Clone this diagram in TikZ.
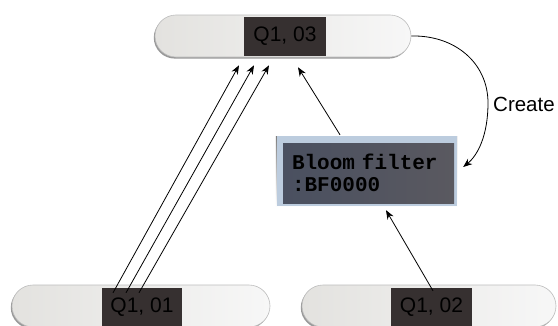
\documentclass[tikz,border=0pt]{standalone}
\usepackage{fontspec}
\setmainfont{Liberation Sans}
\newfontfamily\bfmono{Liberation Mono}
\usetikzlibrary{arrows.meta,calc,shadows,backgrounds}
\definecolor{pillL}{HTML}{E3E2DF}
\definecolor{pillR}{HTML}{F7F7F7}
\definecolor{pillB}{HTML}{BDBDBD}
\definecolor{qdark}{HTML}{363030}
\definecolor{bfL}{HTML}{4A5060}
\definecolor{bfR}{HTML}{5A5960}
\definecolor{bfFrame}{HTML}{BCCCDE}
\definecolor{shade}{HTML}{808080}
\tikzset{
  pill/.style={rectangle, rounded corners=21pt, minimum height=42pt, inner sep=0pt,
    left color=pillL, right color=pillR, draw=pillB, line width=0.6pt,
    drop shadow={shadow xshift=-1.2pt, shadow yshift=-1.6pt, fill=shade, opacity=0.8}},
  qbox/.style={rectangle, fill=qdark, minimum height=39pt, inner sep=0pt, text=black,
    font=\fontsize{21}{25}\selectfont},
  bfbox/.style={rectangle, left color=bfL, right color=bfR, minimum width=171pt,
    minimum height=60pt, inner xsep=9pt, inner ysep=0pt, text width=153pt, align=left,
    text=black, font=\bfmono\bfseries\fontsize{21}{22}\selectfont},
  arr/.style={-{Stealth[length=9pt,width=7pt]}, line width=0.8pt, black},
  lbl/.style={font=\fontsize{20.5}{24}\selectfont, inner sep=0pt}
}
\begin{document}
\begin{tikzpicture}[x=1pt,y=1pt]
\useasboundingbox (0,0) rectangle (558,325);
% pills
\node[pill, minimum width=256pt] (p03) at (283,289) {};
\node[pill, minimum width=258pt] (p01) at (141,19) {};
\node[pill, minimum width=254pt] (p02) at (429,19) {};
% dark labels
\node[qbox, minimum width=82pt] (q03) at (285,288.7) {Q1, 03};
\node[qbox, minimum width=80pt] (q01) at (142,17.5) {Q1, 01};
\node[qbox, minimum width=81pt] (q02) at (431.5,17.5) {Q1, 02};
% bloom filter box
\node[bfbox] (bf) at (368.5,152) {Bloom filter\\:BF0000};
\begin{scope}[on background layer]
  \fill[white] (0,0) rectangle (558,325);
  \fill[shade] ($(bf.south west)+(-7,-4)$) rectangle ($(bf.north east)+(3,6)$);
  \fill[bfFrame] ($(bf.south west)+(-6,-3)$) rectangle ($(bf.north east)+(3,7)$);
\end{scope}
% connectors
\draw[arr] ($(q01.north)+(-29,-5)$) -- ($(p03.south)+(-44,-8)$);
\draw[arr] ($(q01.north)+(-16,-5)$) -- ($(p03.south)+(-29,-8)$);
\draw[arr] ($(q01.north)+(-3,-5)$) -- ($(p03.south)+(-14,-8)$);
\draw[arr] ($(q02.north)+(1.5,-3)$) -- ($(bf.south)+(17.5,-7)$);
\draw[arr] ($(bf.north)+(-28.5,8)$) -- ($(p03.south)+(15,-10)$);
\draw[arr] (p03.east) .. controls (455,290) and (488,262) .. (488,222)
  .. controls (488,190) and (478,170) .. ($(bf.east)+(9,6)$);
\node[lbl, anchor=base west] (create) at (493,213.3) {Create};
\end{tikzpicture}
\end{document}
